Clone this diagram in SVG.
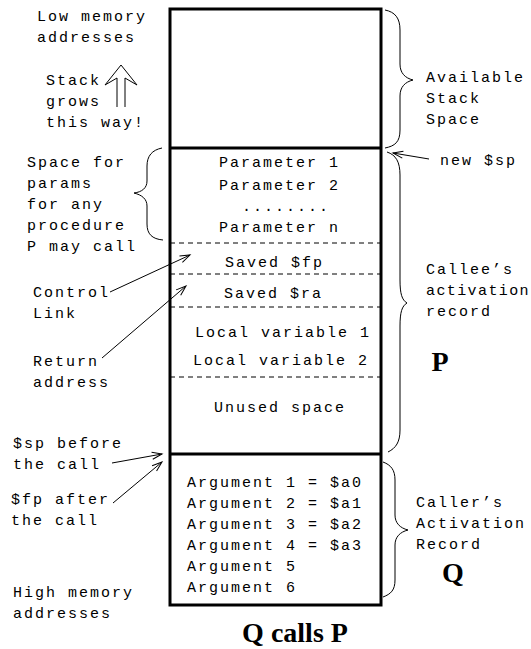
<svg xmlns="http://www.w3.org/2000/svg" width="531" height="649" viewBox="0 0 531 649">
<defs>
<marker id="ah" markerUnits="userSpaceOnUse" markerWidth="14" markerHeight="10" viewBox="-11 -5 13 10" refX="0" refY="0" orient="auto">
<path d="M-10,-3.5 L0,0 L-10,3.5" fill="none" stroke="#000" stroke-width="1"/>
</marker>
</defs>
<style>
.t{font-family:"Liberation Mono","Courier New",monospace;font-size:15px;letter-spacing:2px;fill:#000}
.b{font-family:"Liberation Serif","Times New Roman",serif;font-weight:bold;fill:#000}
.box{fill:none;stroke:#000;stroke-width:3}
.div{stroke:#000;stroke-width:3}
.dash{stroke:#000;stroke-width:1;stroke-dasharray:5,4}
.br{fill:none;stroke:#000;stroke-width:1}
.ar{fill:none;stroke:#000;stroke-width:1;marker-end:url(#ah)}
</style>
<rect width="531" height="649" fill="#fff"/>

<g id="stack">
<rect class="box" x="170" y="9" width="211" height="596"/>
<line class="div" x1="170" y1="148" x2="381" y2="148"/>
<line class="div" x1="170" y1="454" x2="381" y2="454"/>
</g>

<g id="params">
<text class="t" x="219" y="167">Parameter 1</text>
<text class="t" x="219" y="190">Parameter 2</text>
<text class="t" x="242" y="211">........</text>
<text class="t" x="219" y="232">Parameter n</text>
<line class="dash" x1="170" y1="243" x2="381" y2="243"/>
</g>
<g id="savedfp">
<text class="t" x="225" y="267">Saved $fp</text>
<line class="dash" x1="170" y1="274" x2="381" y2="274"/>
</g>
<g id="savedra">
<text class="t" x="224" y="298">Saved $ra</text>
<line class="dash" x1="170" y1="307" x2="381" y2="307"/>
</g>
<g id="locals">
<text class="t" x="195" y="337">Local variable 1</text>
<text class="t" x="193" y="365">Local variable 2</text>
<line class="dash" x1="170" y1="377" x2="381" y2="377"/>
</g>
<g id="unused">
<text class="t" x="214" y="412">Unused space</text>
</g>
<g id="args">
<text class="t" x="187" y="487">Argument 1 = $a0</text>
<text class="t" x="187" y="508">Argument 2 = $a1</text>
<text class="t" x="187" y="529">Argument 3 = $a2</text>
<text class="t" x="187" y="550">Argument 4 = $a3</text>
<text class="t" x="187" y="571">Argument 5</text>
<text class="t" x="187" y="592">Argument 6</text>
</g>

<g id="lowmem">
<text class="t" x="37" y="21">Low memory</text>
<text class="t" x="37" y="42">addresses</text>
</g>
<g id="grows">
<text class="t" x="46" y="85">Stack</text>
<text class="t" x="46" y="106">grows</text>
<text class="t" x="46" y="127">this way!</text>
<path class="br" d="M117,107 V78 L105,85 L121,65 L137,85 L125,78 V107"/>
</g>
<g id="spaceparams">
<text class="t" x="27" y="167">Space for</text>
<text class="t" x="27" y="188">params</text>
<text class="t" x="27" y="209">for any</text>
<text class="t" x="27" y="230">procedure</text>
<text class="t" x="27" y="251">P may call</text>
<path class="br" d="M162,148 C152,150 147,156 147,166 L147,181 C147,188 142,192 134,193 C142,195 147,199 147,206 L147,224 C147,234 152,239 163,240"/>
</g>
<g id="controllink">
<text class="t" x="33" y="297">Control</text>
<text class="t" x="33" y="318">Link</text>
</g>
<g id="returnaddr">
<text class="t" x="33" y="366">Return</text>
<text class="t" x="33" y="387">address</text>
</g>
<g id="spbefore">
<text class="t" x="13" y="448">$sp before</text>
<text class="t" x="13" y="469">the call</text>
</g>
<g id="fpafter">
<text class="t" x="11" y="504">$fp after</text>
<text class="t" x="11" y="525">the call</text>
</g>
<g id="highmem">
<text class="t" x="13" y="597">High memory</text>
<text class="t" x="13" y="618">addresses</text>
</g>

<g id="available">
<path class="br" d="M385,10 C395,12 400,18 400,30 L400,64 C400,73 405,78 413,80 C405,82 400,87 400,96 L400,130 C400,142 395,146 385,148"/>
<text class="t" x="426" y="82">Available</text>
<text class="t" x="426" y="103">Stack</text>
<text class="t" x="426" y="124">Space</text>
</g>
<g id="newsp">
<text class="t" x="440" y="165">new $sp</text>
</g>
<g id="callee">
<path class="br" d="M387,152 C396,155 400,162 400,175 L400,280 C400,294 402,300 407,303 C402,306 400,312 400,326 L400,430 C400,442 396,448 388,452"/>
<text class="t" x="426" y="274">Callee’s</text>
<text class="t" x="426" y="295" style="letter-spacing:1.4px">activation</text>
<text class="t" x="426" y="316">record</text>
<text class="b" x="440" y="371" font-size="28" text-anchor="middle">P</text>
</g>
<g id="caller">
<path class="br" d="M383,462 C391,465 395,470 395,480 L395,515 C395,523 400,528 408,530 C400,532 395,537 395,545 L395,580 C395,590 391,594 383,597"/>
<text class="t" x="416" y="507">Caller’s</text>
<text class="t" x="416" y="528">Activation</text>
<text class="t" x="416" y="549">Record</text>
<text class="b" x="453" y="582" font-size="28" text-anchor="middle">Q</text>
</g>
<g id="title">
<text class="b" x="295" y="642" font-size="28" text-anchor="middle">Q calls P</text>
</g>

<g id="connectors">
<line class="ar" x1="110" y1="292" x2="190" y2="255"/>
<line class="ar" x1="102" y1="358" x2="186" y2="286"/>
<line class="ar" x1="112" y1="463" x2="162" y2="454"/>
<line class="ar" x1="113" y1="503" x2="162" y2="462"/>
<line class="ar" x1="429" y1="159" x2="393" y2="153"/>
</g>
</svg>
